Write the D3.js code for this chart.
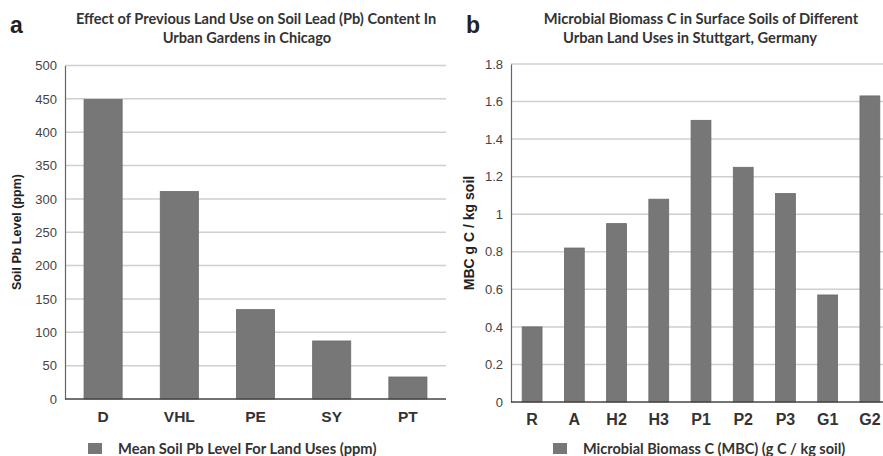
<!DOCTYPE html>
<html><head><meta charset="utf-8">
<script src="https://cdn.jsdelivr.net/npm/d3@7"></script>
<style>
body{margin:0;background:#fff;}
svg{display:block;}
</style></head>
<body>
<svg id="c" width="883" height="456"></svg>
<script>
// Panel a data
const catsA = ["D","VHL","PE","SY","PT"];
const valsA = [449, 311, 134, 87, 33];
const ticksA = [0,50,100,150,200,250,300,350,400,450,500];
// Panel b data
const catsB = ["R","A","H2","H3","P1","P2","P3","G1","G2"];
const valsB = [0.40, 0.82, 0.95, 1.08, 1.50, 1.25, 1.11, 0.57, 1.63];
const ticksB = [0,0.2,0.4,0.6,0.8,1,1.2,1.4,1.6,1.8];

const svg = d3.select("#c");
const titleFont = "Lato, 'Open Sans', sans-serif";
const axisFont = "'Liberation Sans', Arial, sans-serif";
const barFill = "#777777";
const barStroke = "#6a6a6a";

function panel(o){
  const g = svg.append("g");
  const x = d3.scaleBand().domain(o.cats).range([o.x0, o.x1]).paddingInner(o.pad).paddingOuter(o.pad/2);
  const y = d3.scaleLinear().domain([0, o.ymax]).range([o.y0, o.y1]);
  // gridlines
  g.selectAll("line.grid").data(o.ticks.filter(t=>t>0)).join("line")
    .attr("x1", o.x0).attr("x2", Math.min(o.x1, 883))
    .attr("y1", d=>y(d)).attr("y2", d=>y(d))
    .attr("stroke", "#cfcfcf").attr("stroke-width", 1.5);
  // bars
  g.selectAll("rect.bar").data(o.vals).join("rect")
    .attr("x", (d,i)=>x(o.cats[i])).attr("width", x.bandwidth())
    .attr("y", d=>y(d)).attr("height", d=>y(0)-y(d))
    .attr("fill", barFill).attr("stroke", barStroke).attr("stroke-width", 0.8);
  // y axis
  const ya = d3.axisLeft(y).tickValues(o.ticks).tickSize(0).tickPadding(8).tickFormat(o.fmt);
  const yg = g.append("g").attr("transform", `translate(${o.x0},0)`).call(ya);
  yg.select(".domain").attr("stroke", "#666").attr("stroke-width", 1.2);
  yg.selectAll("text").attr("font-family", axisFont).attr("font-size", 13).attr("fill", "#444");
  // x axis
  const xa = d3.axisBottom(x).tickSize(0).tickPadding(12);
  const xg = g.append("g").attr("transform", `translate(0,${o.y0})`).call(xa);
  xg.select(".domain").attr("d", `M${o.x0},0H${Math.min(o.x1,883)}`).attr("stroke", "#444").attr("stroke-width", 1.5);
  xg.selectAll("text").attr("font-family", axisFont).attr("font-size", o.xfs).attr("font-weight", "bold").attr("fill", "#333");
  // y axis title
  g.append("text").attr("transform", `translate(${o.ytx},${o.yty}) rotate(-90)`)
    .attr("text-anchor", "middle").attr("font-family", axisFont).attr("font-weight", "bold")
    .attr("font-size", o.ytfs).attr("fill", "#222").text(o.ytitle);
  // titles
  o.titles.forEach(t=>{
    g.append("text").attr("x", t.x).attr("y", t.y).attr("text-anchor", "middle")
      .attr("font-family", titleFont).attr("font-weight", "bold").attr("font-size", o.tfs)
      .attr("fill", "#333").text(t.s);
  });
  // panel letter
  g.append("text").attr("x", o.lx).attr("y", 33).attr("font-family", axisFont)
    .attr("font-weight", "bold").attr("font-size", 23).attr("fill", "#222").text(o.letter);
  // legend
  g.append("rect").attr("x", o.legx).attr("y", 443).attr("width", 14).attr("height", 11)
    .attr("fill", barFill);
  g.append("text").attr("x", o.legx + 30).attr("y", 453.5).attr("font-family", titleFont)
    .attr("font-weight", "bold").attr("font-size", o.lfs).attr("fill", "#333").text(o.legend);
}

panel({
  cats: catsA, vals: valsA, ticks: ticksA, ymax: 500,
  x0: 65, x1: 446, y0: 399, y1: 65.5, pad: 0.5, xfs: 15.5,
  fmt: d3.format("d"),
  ytitle: "Soil Pb Level (ppm)", ytx: 21, yty: 232, ytfs: 12.5,
  tfs: 14.6,
  titles: [{x:256, y:24, s:"Effect of Previous Land Use on Soil Lead (Pb) Content In"},
           {x:247, y:43, s:"Urban Gardens in Chicago"}],
  letter: "a", lx: 10,
  lfs: 14.7,
  legx: 88, legend: "Mean Soil Pb Level For Land Uses (ppm)"
});
panel({
  cats: catsB, vals: valsB, ticks: ticksB, ymax: 1.8,
  x0: 511, x1: 891, y0: 402, y1: 64, pad: 0.53, xfs: 16,
  fmt: d=>String(+d.toFixed(1)),
  ytitle: "MBC g C / kg soil", ytx: 474, yty: 233, ytfs: 14,
  tfs: 14.7,
  titles: [{x:701, y:24, s:"Microbial Biomass C in Surface Soils of Different"},
           {x:690, y:43, s:"Urban Land Uses in Stuttgart, Germany"}],
  letter: "b", lx: 466,
  lfs: 14.5,
  legx: 553, legend: "Microbial Biomass C (MBC) (g C / kg soil)"
});
</script>
</body></html>
